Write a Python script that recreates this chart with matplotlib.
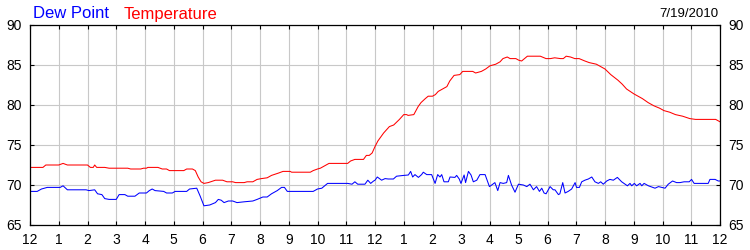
import matplotlib
matplotlib.use("Agg")
import matplotlib.pyplot as plt

plt.rcParams['font.family'] = ['Liberation Sans', 'DejaVu Sans']

# hours since midnight, degrees F
temp_hours = [0.0, 0.45, 0.55, 1.0, 1.15, 1.3, 2.0, 2.1, 2.2, 2.25, 2.32, 2.6, 2.75, 3.4, 3.5,
              3.85, 3.95, 4.05, 4.1, 4.45, 4.6, 4.75, 4.85, 5.35, 5.45, 5.65, 5.75, 5.85, 5.95,
              6.05, 6.2, 6.45, 6.7, 6.85, 7.05, 7.15, 7.45, 7.55, 7.75, 7.9, 8.05, 8.25, 8.4,
              8.65, 8.8, 9.05, 9.1, 9.75, 9.85, 10.0, 10.1, 10.2, 10.4, 11.05, 11.15, 11.3,
              11.6, 11.7, 11.8, 11.9, 12.0, 12.1, 12.3, 12.5, 12.65, 12.85, 13.0, 13.1, 13.15,
              13.35, 13.5, 13.6, 13.75, 13.85, 14.0, 14.1, 14.2, 14.4, 14.5, 14.6, 14.75, 14.95,
              15.05, 15.4, 15.5, 15.7, 15.85, 16.0, 16.2, 16.35, 16.45, 16.6, 16.7, 16.9, 17.0,
              17.1, 17.3, 17.75, 17.95, 18.1, 18.25, 18.45, 18.55, 18.65, 18.8, 18.95, 19.1,
              19.3, 19.45, 19.7, 19.85, 20.0, 20.2, 20.45, 20.6, 20.75, 21.0, 21.3, 21.5, 21.7,
              21.9, 22.05, 22.25, 22.45, 22.7, 22.95, 23.15, 23.6, 23.85, 24.0]
temp_vals = [72.2, 72.2, 72.5, 72.5, 72.7, 72.5, 72.5, 72.2, 72.2, 72.5, 72.2, 72.2, 72.1, 72.1, 72.0,
             72.0, 72.1, 72.1, 72.2, 72.2, 72.0, 72.0, 71.8, 71.8, 72.0, 72.0, 71.8, 71.0, 70.4,
             70.2, 70.3, 70.6, 70.6, 70.4, 70.4, 70.3, 70.3, 70.4, 70.4, 70.7, 70.8, 70.9, 71.2,
             71.5, 71.7, 71.7, 71.6, 71.6, 71.8, 72.0, 72.1, 72.3, 72.7, 72.7, 73.0, 73.2,
             73.2, 73.7, 73.7, 74.0, 74.8, 75.5, 76.5, 77.3, 77.5, 78.2, 78.8, 78.8, 78.7,
             78.8, 79.8, 80.3, 80.8, 81.1, 81.1, 81.3, 81.7, 82.1, 82.3, 83.0, 83.7, 83.8,
             84.2, 84.2, 84.0, 84.2, 84.5, 84.9, 85.1, 85.4, 85.8, 86.0, 85.8, 85.8, 85.6,
             85.5, 86.1, 86.1, 85.8, 85.8, 85.9, 85.8, 85.8, 86.1, 86.0, 85.8, 85.8,
             85.5, 85.3, 85.1, 84.8, 84.5, 83.8, 83.1, 82.6, 82.0, 81.4, 80.8, 80.3, 79.9,
             79.6, 79.3, 79.1, 78.8, 78.6, 78.3, 78.2, 78.2, 78.2, 77.9]

dew_hours = [0.0, 0.25, 0.4, 0.6, 1.05, 1.15, 1.3, 1.95, 2.05, 2.25, 2.35, 2.5, 2.6, 2.75, 3.0,
             3.1, 3.3, 3.4, 3.65, 3.8, 4.05, 4.15, 4.25, 4.35, 4.65, 4.75, 4.95, 5.05, 5.45,
             5.55, 5.8, 5.92, 6.05, 6.25, 6.45, 6.55, 6.65, 6.75, 6.9, 7.05, 7.2, 7.45, 7.75,
             7.9, 8.1, 8.25, 8.4, 8.6, 8.75, 8.85, 8.95, 9.85, 10.0, 10.15, 10.35, 11.05, 11.2,
             11.3, 11.4, 11.65, 11.75, 11.85, 11.95, 12.0, 12.08, 12.23, 12.35, 12.46, 12.64,
             12.75, 13.0, 13.16, 13.24, 13.31, 13.39, 13.51, 13.62, 13.68, 13.8, 13.97, 14.09,
             14.18, 14.26, 14.32, 14.4, 14.55, 14.61, 14.78, 14.84, 14.93, 14.99, 15.1, 15.15,
             15.25, 15.34, 15.42, 15.54, 15.65, 15.83, 15.98, 16.06, 16.17, 16.27, 16.35,
             16.46, 16.58, 16.64, 16.75, 16.87, 16.99, 17.16, 17.28, 17.39, 17.51, 17.62,
             17.72, 17.8, 17.88, 17.95, 18.09, 18.2, 18.26, 18.38, 18.43, 18.53, 18.61, 18.72,
             18.84, 18.96, 19.01, 19.11, 19.19, 19.3, 19.42, 19.54, 19.65, 19.77, 19.85, 19.94,
             20.06, 20.17, 20.29, 20.43, 20.58, 20.78, 20.87, 20.93, 21.02, 21.1, 21.22, 21.28,
             21.36, 21.51, 21.74, 21.86, 21.97, 22.09, 22.2, 22.35, 22.49, 22.61, 22.75, 22.93,
             23.01, 23.1, 23.59, 23.65, 23.83, 23.94, 24.0]
dew_vals = [69.2, 69.2, 69.5, 69.7, 69.7, 69.9, 69.4, 69.4, 69.3, 69.4, 68.9, 68.8, 68.3, 68.2, 68.2,
            68.8, 68.8, 68.6, 68.6, 69.0, 69.0, 69.3, 69.5, 69.3, 69.2, 69.0, 69.0, 69.2, 69.2,
            69.5, 69.6, 68.6, 67.4, 67.5, 67.8, 68.2, 68.1, 67.8, 68.0, 68.0, 67.8, 67.9, 68.0,
            68.2, 68.5, 68.5, 68.9, 69.3, 69.7, 69.7, 69.2, 69.2, 69.5, 69.6, 70.2, 70.2, 70.1,
            70.4, 70.1, 70.1, 70.6, 70.2, 70.5, 70.6, 71.0, 70.6, 70.8, 70.75, 70.75,
            71.1, 71.2, 71.25, 71.7, 71.0, 71.3, 70.95, 71.3, 71.6, 71.3, 71.3, 70.2,
            71.3, 71.0, 71.3, 70.4, 70.4, 71.0, 70.95, 71.2, 70.75, 70.2, 71.25, 70.3,
            71.7, 71.25, 70.4, 70.6, 71.3, 71.3, 69.8, 70.0, 70.3, 69.3, 70.3,
            70.2, 70.3, 71.2, 70.0, 69.1, 70.1, 70.0, 69.8, 70.1, 69.4, 69.8,
            69.2, 69.6, 69.0, 68.9, 69.8, 69.4, 69.4, 68.8, 68.9, 70.3, 69.0, 69.2,
            69.5, 70.3, 69.7, 69.7, 70.4, 70.6, 70.75, 71.0, 70.4, 70.2, 70.4, 70.1,
            70.5, 70.7, 70.6, 70.95, 70.4, 69.9, 70.2, 69.9, 70.2, 69.9, 70.2, 69.9,
            70.2, 69.9, 69.6, 69.8, 69.7, 69.6, 70.1, 70.5, 70.3, 70.3, 70.4, 70.4,
            70.7, 70.2, 70.2, 70.7, 70.7, 70.5, 70.5]

hour_labels = ['12', '1', '2', '3', '4', '5', '6', '7', '8', '9', '10', '11',
               '12', '1', '2', '3', '4', '5', '6', '7', '8', '9', '10', '11', '12']
y_ticks = [65, 70, 75, 80, 85, 90]
date_text = '7/19/2010'

W, H = 750, 250
fig = plt.figure(figsize=(W / 100, H / 100), dpi=100)
ax = fig.add_axes([30 / W, 25 / H, 690 / W, 200 / H])

ax.plot(temp_hours, temp_vals, color='#ff0000', lw=0.75)
ax.plot(dew_hours, dew_vals, color='#0000ff', lw=0.75)

ax.set_xlim(0, 24)
ax.set_ylim(65, 90)
ax.set_xticks(range(25))
ax.set_xticklabels(hour_labels)
ax.set_yticks(y_ticks)
ax.grid(True, color='#c8c8c8', lw=0.8)
ax.set_axisbelow(True)
for s in ax.spines.values():
    s.set_linewidth(0.9)
ax.tick_params(direction='in', length=3, width=0.8, top=True, right=True,
               labelright=True, labelsize=10, colors='black')
ax.tick_params(axis='x', pad=6)
ax.tick_params(axis='y', pad=6)

fig.text(33 / W, 1 - 18.5 / H, 'Dew Point', color='#0000ff', fontsize=12, va='baseline')
fig.text(124 / W, 1 - 18.5 / H, 'Temperature', color='#ff0000', fontsize=12, va='baseline')
fig.text(718 / W, 1 - 16.7 / H, date_text, color='black', fontsize=9.5, va='baseline', ha='right')

fig.savefig('out.png', dpi=100)
